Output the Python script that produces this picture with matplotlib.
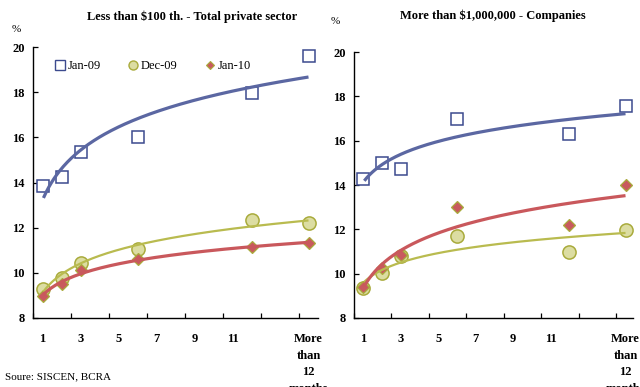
import numpy as np
import matplotlib
matplotlib.use("Agg")
import matplotlib.pyplot as plt
from matplotlib.lines import Line2D

# Maturity buckets (months); the last bucket is "more than 12 months"
months = [1, 2, 3, 6, 12, 15]
tick_positions = [1, 3, 5, 7, 9, 11, 15]
tick_labels = ["1", "3", "5", "7", "9", "11", "More\nthan\n12\nmonths"]
series_names = ["Jan-09", "Dec-09", "Jan-10"]

# Less than $100 th. - Total private sector (% rate)
small_jan09 = [13.85, 14.25, 15.33, 16.0, 17.95, 19.6]
small_dec09 = [9.27, 9.76, 10.45, 11.04, 12.34, 12.22]
small_jan10 = [8.97, 9.49, 10.12, 10.61, 11.13, 11.3]

# More than $1,000,000 - Companies (% rate)
large_jan09 = [14.27, 14.98, 14.72, 16.98, 16.29, 17.56]
large_dec09 = [9.37, 10.02, 10.81, 11.71, 10.96, 11.97]
large_jan10 = [9.41, 10.25, 10.84, 12.99, 12.19, 13.98]

plt.rcParams["font.family"] = ["Liberation Serif", "DejaVu Serif"]

BLUE_EDGE = "#3c4a8e"
BLUE_LINE = "#5b67a2"
OLIVE_EDGE = "#a9ab3c"
OLIVE_FILL = "#dcdda2"
OLIVE_LINE = "#b9bb4f"
RED_FILL = "#c85a5e"
RED_LINE = "#c9585c"

styles = [
    dict(marker="s", ms=9, mfc="white", mec=BLUE_EDGE, mew=1.1, line=BLUE_LINE, lw=2.3),
    dict(marker="o", ms=9.5, mfc=OLIVE_FILL, mec=OLIVE_EDGE, mew=1.1, line=OLIVE_LINE, lw=1.6),
    dict(marker="D", ms=6, mfc=RED_FILL, mec=OLIVE_EDGE, mew=0.9, line=RED_LINE, lw=2.3),
]


def log_trend(x, y):
    lx = np.log(np.asarray(x, float))
    a, b = np.polyfit(lx, np.asarray(y, float), 1)
    xs = np.linspace(1.05, 15, 200)
    return xs, a * np.log(xs) + b


def draw_panel(ax, data, xmax):
    for vals, st in zip(data, styles):
        ax.plot(months, vals, linestyle="none", marker=st["marker"], ms=st["ms"],
                mfc=st["mfc"], mec=st["mec"], mew=st["mew"], zorder=3)
    for vals, st in zip(data, styles):
        xs, ys = log_trend(months, vals)
        ax.plot(xs, ys, color=st["line"], lw=st["lw"], zorder=4,
                solid_capstyle="butt")
    ax.set_xlim(0.5, xmax)
    ax.set_ylim(8, 20)
    ax.set_yticks(np.arange(8, 21, 2))
    ax.set_yticklabels([str(v) for v in range(8, 21, 2)], fontweight="bold", fontsize=9)
    ax.tick_params(axis="y", direction="in", length=3.5, width=0.9, pad=6)
    ax.set_xticks(np.arange(0.5, 15, 2))
    ax.set_xticklabels([])
    ax.tick_params(axis="x", which="major", direction="in", length=3.5, width=0.9)
    ax.set_xticks(tick_positions, minor=True)
    ax.set_xticklabels(tick_labels, minor=True, fontweight="bold", fontsize=9)
    ax.tick_params(axis="x", which="minor", length=0, pad=11)
    for lab in ax.get_xticklabels(minor=True):
        lab.set_linespacing(1.5)
        lab.set_verticalalignment("top")
    for s in ("top", "right"):
        ax.spines[s].set_visible(False)
    for s in ("left", "bottom"):
        ax.spines[s].set_linewidth(1.0)
    ax.set_facecolor("white")


fig = plt.figure(figsize=(6.4, 3.87), dpi=100)
ax1 = fig.add_axes([33 / 640, 1 - 318 / 387, 285 / 640, 271 / 387])
ax2 = fig.add_axes([354 / 640, 1 - 318 / 387, 279 / 640, 266 / 387])

draw_panel(ax1, [small_jan09, small_dec09, small_jan10], 15.5)
draw_panel(ax2, [large_jan09, large_dec09, large_jan10], 15.4)

fig.text(192 / 640, 1 - 17 / 387, "Less than $100 th. - Total private sector",
         fontweight="bold", fontsize=9, ha="center", va="center")
fig.text(493 / 640, 1 - 16 / 387, "More than $1,000,000 - Companies",
         fontweight="bold", fontsize=9, ha="center", va="center")

fig.text(16 / 640, 1 - 30 / 387, "%", fontsize=8, ha="center", va="center")
fig.text(335 / 640, 1 - 22 / 387, "%", fontsize=8, ha="center", va="center")
fig.text(5 / 640, 1 - 377 / 387, "Soure: SISCEN, BCRA", fontsize=8, va="center")

handles = [
    Line2D([], [], linestyle="none", marker="s", ms=6.5, mfc="white", mec=BLUE_EDGE, mew=1.0),
    Line2D([], [], linestyle="none", marker="o", ms=6.5, mfc=OLIVE_FILL, mec=OLIVE_EDGE, mew=1.0),
    Line2D([], [], linestyle="none", marker="D", ms=4.5, mfc=RED_FILL, mec=OLIVE_EDGE, mew=0.8),
]
ax1.legend(handles, series_names, loc="upper left", bbox_to_anchor=(0.06, 0.97),
           ncol=3, frameon=False, fontsize=9, handlelength=0.8, handletextpad=0.2,
           columnspacing=2.2, borderaxespad=0)

fig.savefig("out.png", dpi=100, facecolor="white")
